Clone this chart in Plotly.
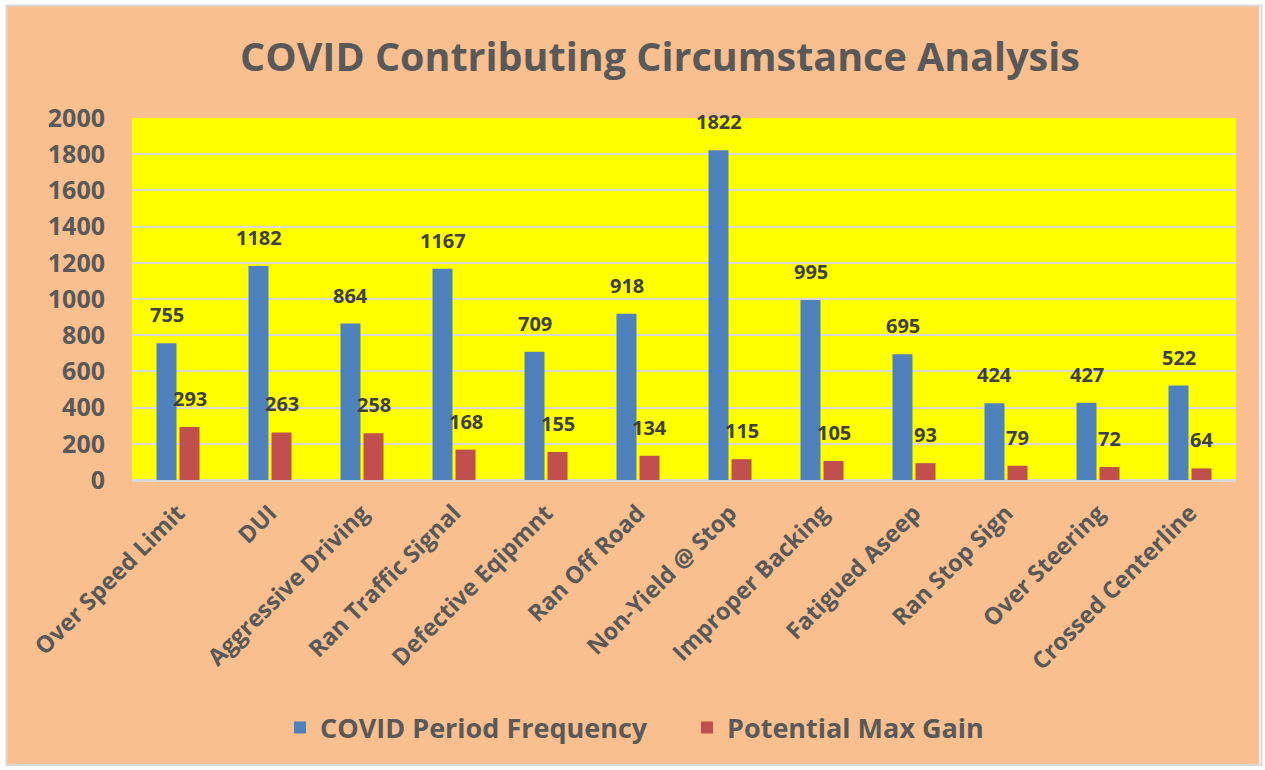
import plotly.graph_objects as go

categories = ["Over Speed Limit", "DUI", "Aggressive Driving", "Ran Traffic Signal",
              "Defective Eqipmnt", "Ran Off Road", "Non-Yield @ Stop", "Improper Backing",
              "Fatigued Aseep", "Ran Stop Sign", "Over Steering", "Crossed Centerline"]
covid_freq = [755, 1182, 864, 1167, 709, 918, 1822, 995, 695, 424, 427, 522]
max_gain = [293, 263, 258, 168, 155, 134, 115, 105, 93, 79, 72, 64]
y_ticks = list(range(0, 2001, 200))

W, H = 1265, 770
ML, MR, MT, MB = 132, 29, 118, 290
PW, PH = W - ML - MR, H - MT - MB

FONT = "Open Sans"
BLUE = "#4F81BD"
RED = "#C0504D"
PEACH = "#F9BF8F"
GRAY_TXT = "#595959"
LABEL_TXT = "#404040"

fig = go.Figure()
fig.add_trace(go.Bar(name="COVID Period Frequency", x=categories, y=covid_freq,
                     marker=dict(color=BLUE, line=dict(width=0))))
fig.add_trace(go.Bar(name="Potential Max Gain", x=categories, y=max_gain,
                     marker=dict(color=RED, line=dict(width=0))))

# data labels
cat_px = PW / len(categories)
offset = cat_px * 0.5 / 4
annotations = []
for c, v in zip(categories, covid_freq):
    annotations.append(dict(x=c, y=v, text=f"<b>{v}</b>", showarrow=False, xref="x", yref="y",
                            xshift=-offset, yshift=13, yanchor="bottom",
                            font=dict(family=FONT, size=20, color=LABEL_TXT)))
for c, v in zip(categories, max_gain):
    annotations.append(dict(x=c, y=v, text=f"<b>{v}</b>", showarrow=False, xref="x", yref="y",
                            xshift=offset, yshift=13, yanchor="bottom",
                            font=dict(family=FONT, size=20, color=LABEL_TXT)))

def px_x(p):
    return (p - ML) / PW
def px_y(p):
    return (H - MB - p) / PH

shapes = [
    dict(type="rect", xref="paper", yref="paper", x0=px_x(0), x1=px_x(W), y0=px_y(H), y1=px_y(0),
         line=dict(color="white", width=12), fillcolor="rgba(0,0,0,0)", layer="above"),
    dict(type="rect", xref="paper", yref="paper", x0=px_x(6.5), x1=px_x(W - 3.5), y0=px_y(H - 5), y1=px_y(5.5),
         line=dict(color="#D9D9D9", width=2), fillcolor="rgba(0,0,0,0)", layer="above"),
]

fig.update_layout(
    width=W, height=H,
    margin=dict(l=ML, r=MR, t=MT, b=MB, pad=0),
    paper_bgcolor=PEACH,
    plot_bgcolor="#FFFF00",
    barmode="group",
    bargap=0.5,
    bargroupgap=0.13,
    title=dict(text="<b>COVID Contributing Circumstance Analysis</b>", x=660 / W, xanchor="center",
               y=1 - 57 / H, yanchor="middle", yref="container",
               font=dict(family=FONT, size=39.5, color=GRAY_TXT)),
    font=dict(family=FONT, color=GRAY_TXT),
    xaxis=dict(tickangle=-45, tickfont=dict(family=FONT, size=23.5, color=GRAY_TXT, weight="bold"),
               showline=True, linecolor="#D9D9D9", linewidth=2, ticks="", showgrid=False,
               ticklabelstandoff=8),
    yaxis=dict(range=[0, 2000], tickvals=y_ticks,
               tickfont=dict(family=FONT, size=25, color=GRAY_TXT, weight="bold"),
               showgrid=True, gridcolor="#D9D9D9", gridwidth=2, zeroline=True,
               zerolinecolor="#D9D9D9", zerolinewidth=2, showline=False, ticks="",
               ticklabelstandoff=26),
    legend=dict(orientation="h", x=px_x(280), xanchor="left", y=-248 / PH, yanchor="middle",
                font=dict(family=FONT, size=27, color=GRAY_TXT, weight="bold"),
                bgcolor="rgba(0,0,0,0)", itemwidth=30, traceorder="normal",
                entrywidth=362, entrywidthmode="pixels"),
    annotations=annotations,
    shapes=shapes,
)

fig.write_html("out.html", config={"displayModeBar": False},
               post_script="document.body.style.margin='0';document.body.style.overflow='hidden';")
